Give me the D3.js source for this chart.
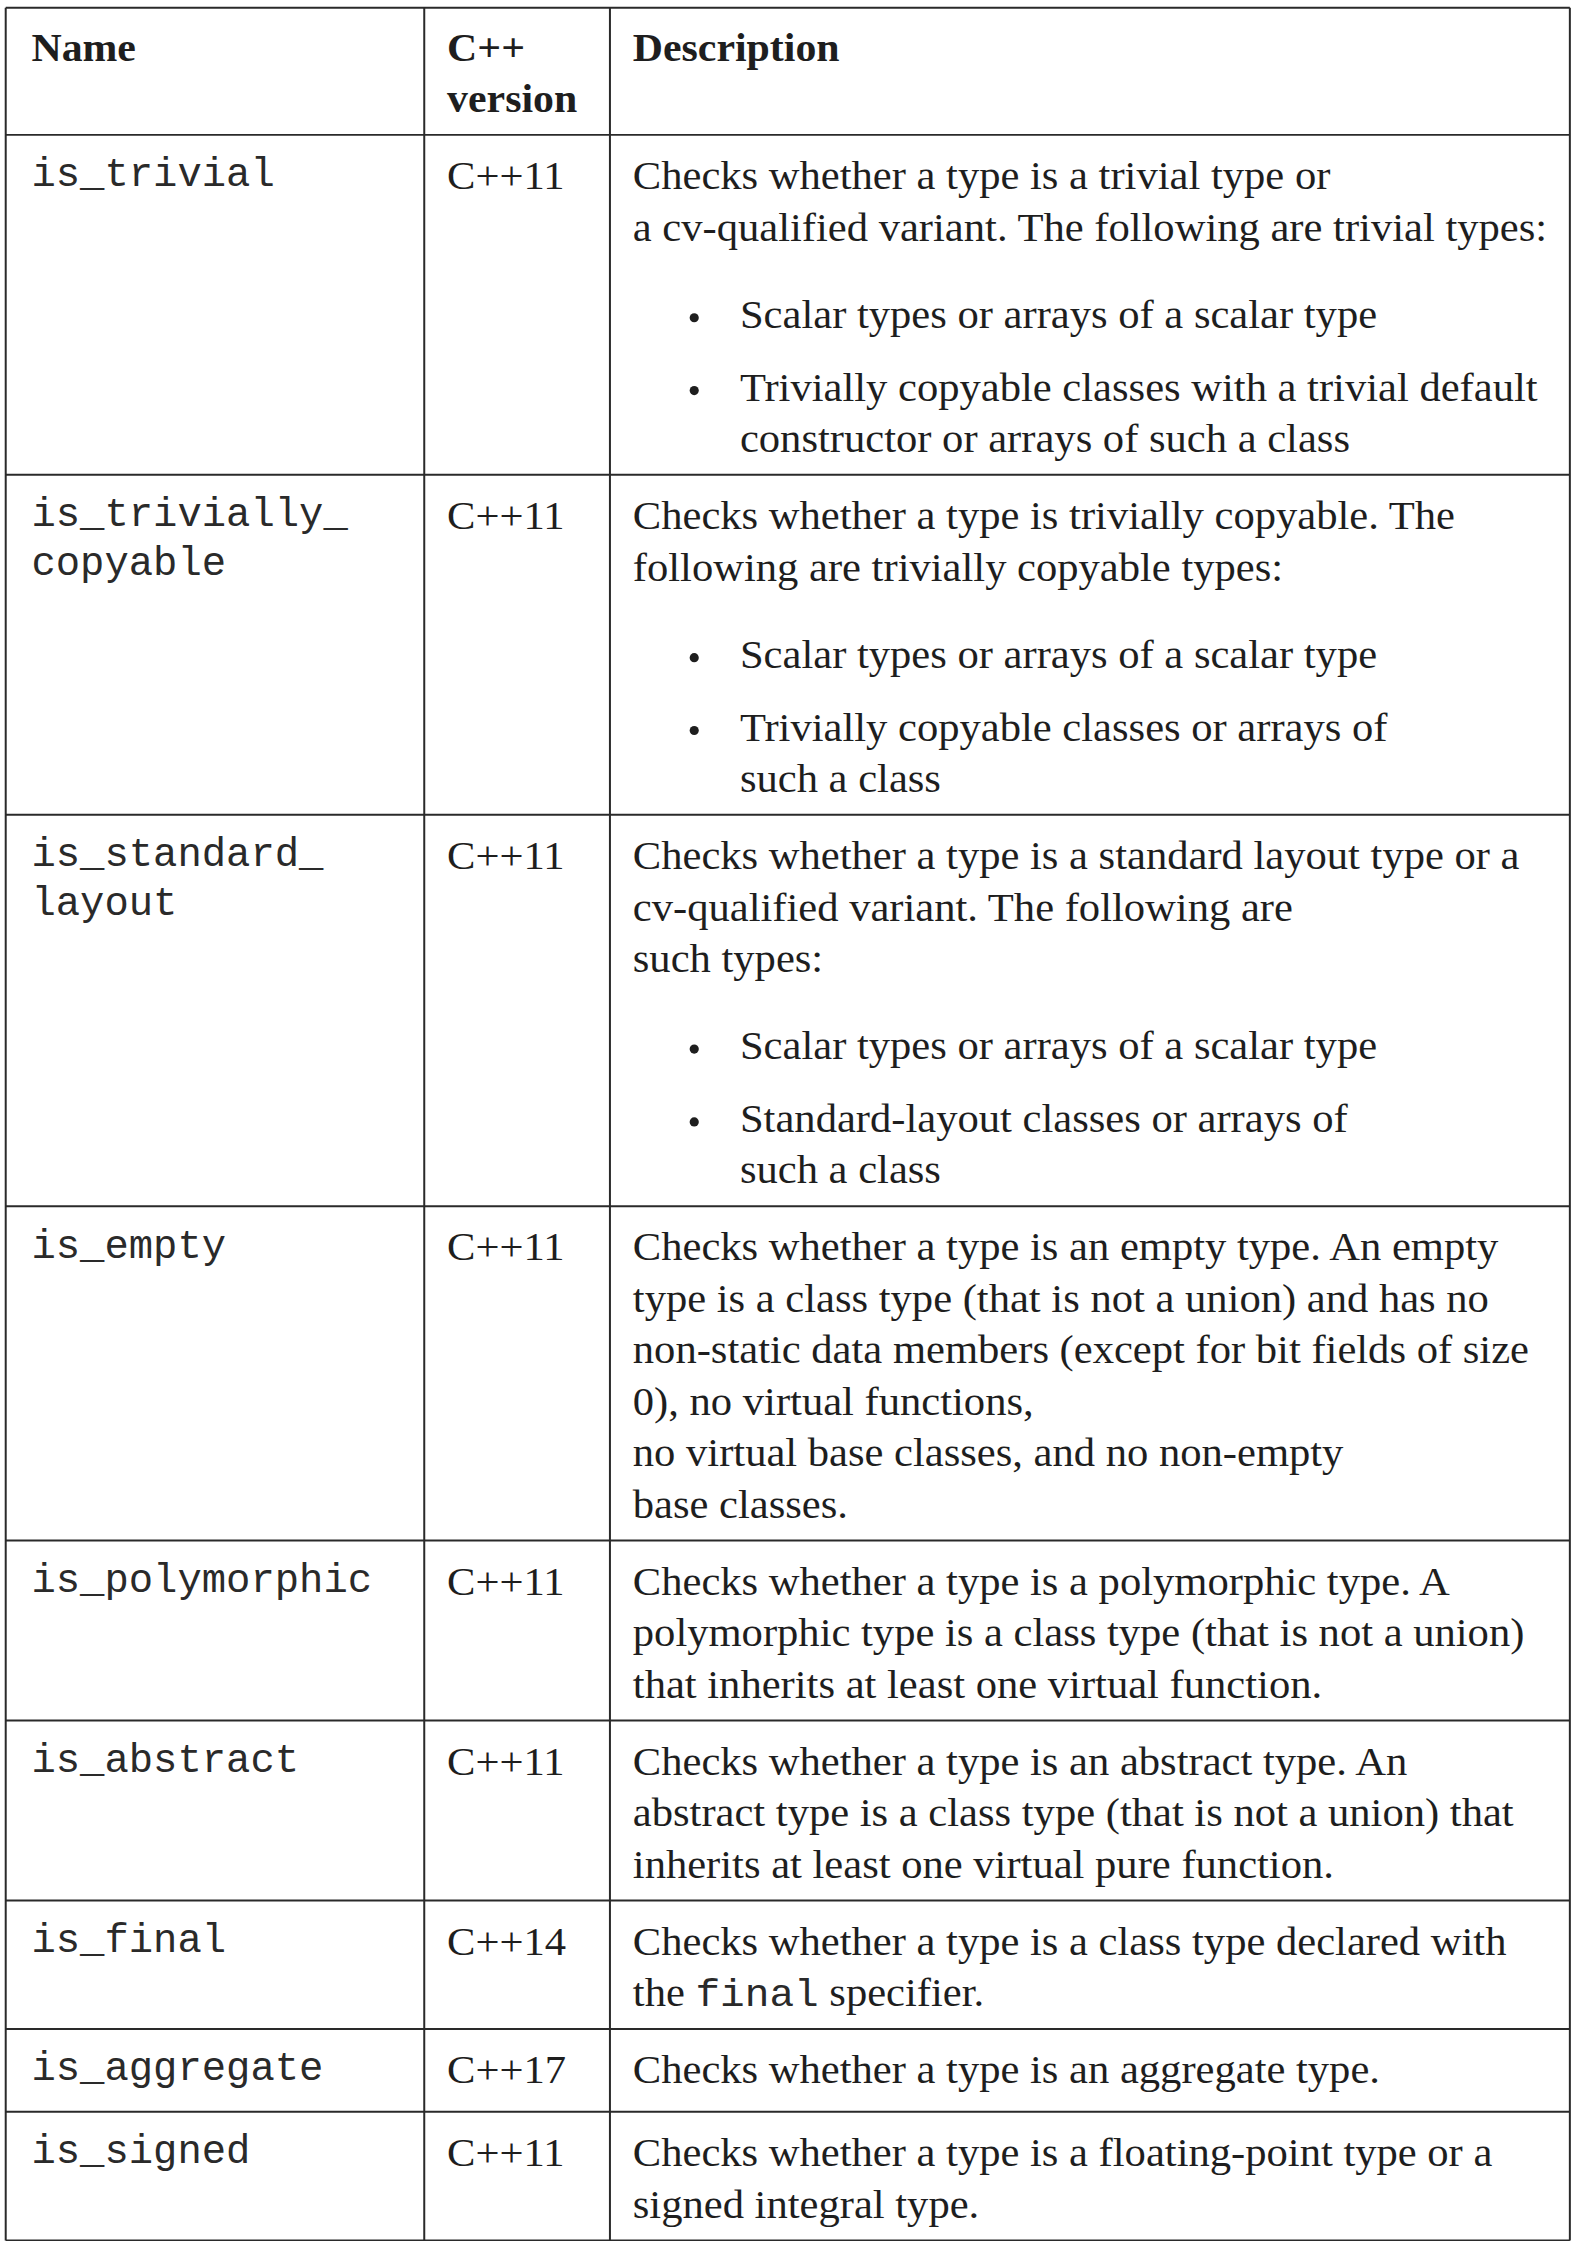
<!DOCTYPE html>
<html><head><meta charset="utf-8">
<script src="https://cdn.jsdelivr.net/npm/d3@7"></script>
<style>body{margin:0;background:#fff}</style>
</head><body>
<svg id="t"></svg>
<script>
// table content
var headers = ["Name", "C++\nversion", "Description"];
var names = [["is_trivial"], ["is_trivially_", "copyable"], ["is_standard_", "layout"], ["is_empty"],
  ["is_polymorphic"], ["is_abstract"], ["is_final"], ["is_aggregate"], ["is_signed"]];
var versions = ["C++11", "C++11", "C++11", "C++11", "C++11", "C++11", "C++14", "C++17", "C++11"];
// p = paragraph line, b = bullet line, c = bullet continuation
var descriptions = [
  [["p", "Checks whether a type is a trivial type or"], ["p", "a cv-qualified variant. The following are trivial types:"],
   ["b", "Scalar types or arrays of a scalar type"], ["b", "Trivially copyable classes with a trivial default"], ["c", "constructor or arrays of such a class"]],
  [["p", "Checks whether a type is trivially copyable. The"], ["p", "following are trivially copyable types:"],
   ["b", "Scalar types or arrays of a scalar type"], ["b", "Trivially copyable classes or arrays of"], ["c", "such a class"]],
  [["p", "Checks whether a type is a standard layout type or a"], ["p", "cv-qualified variant. The following are"], ["p", "such types:"],
   ["b", "Scalar types or arrays of a scalar type"], ["b", "Standard-layout classes or arrays of"], ["c", "such a class"]],
  [["p", "Checks whether a type is an empty type. An empty"], ["p", "type is a class type (that is not a union) and has no"],
   ["p", "non-static data members (except for bit fields of size"], ["p", "0), no virtual functions,"],
   ["p", "no virtual base classes, and no non-empty"], ["p", "base classes."]],
  [["p", "Checks whether a type is a polymorphic type. A"], ["p", "polymorphic type is a class type (that is not a union)"], ["p", "that inherits at least one virtual function."]],
  [["p", "Checks whether a type is an abstract type. An"], ["p", "abstract type is a class type (that is not a union) that"], ["p", "inherits at least one virtual pure function."]],
  [["p", "Checks whether a type is a class type declared with"], ["p", "the `final` specifier."]],
  [["p", "Checks whether a type is an aggregate type."]],
  [["p", "Checks whether a type is a floating-point type or a"], ["p", "signed integral type."]]
];

var W = 1104, H = 1568;
var cols = [4, 297, 427, 1099];
var serif = "'Liberation Serif', 'DejaVu Serif', serif";
var mono = "'Liberation Mono', 'DejaVu Sans Mono', monospace";
var ink = "#1e1e1e";
var sx = 1.065; // reference face is a bit wider than Liberation Serif

var svg = d3.select("#t").attr("width", 1577).attr("height", 2241)
  .attr("viewBox", "0 0 " + W + " " + H);

function txt(parent, x, y, family, size, weight) {
  return parent.append("text")
    .attr("transform", "translate(" + x + "," + y + ")" + (family === serif ? " scale(" + sx + ",1)" : ""))
    .attr("font-family", family).attr("font-size", size)
    .attr("font-weight", weight || "normal").attr("fill", ink);
}

// work out row tops from line counts
var headTop = 5, headBottom = 94;
var rows = [];
var y = headBottom;
descriptions.forEach(function(lines, i) {
  var offs = [], cur = 29;
  lines.forEach(function(l, j) {
    if (j > 0) {
      var prev = lines[j - 1][0];
      if (l[0] === "b" && prev === "p") cur += 61;
      else if (l[0] === "b") cur += 51;
      else cur += 36;
    }
    offs.push(cur);
  });
  var h = lines.length === 1 ? 58 : cur + 25;
  rows.push({top: y, h: h, offs: offs, lines: lines, name: names[i], ver: versions[i]});
  y += h;
});
var bottom = y;

var base = 9;

// header
txt(svg, 22, 33 + base, serif, 27.5, "bold").text(headers[0]);
headers[1].split("\n").forEach(function(t, i) {
  txt(svg, 313, 33 + i * 36 + base, serif, 27.5, "bold").text(t);
});
txt(svg, 443, 33 + base, serif, 27.5, "bold").text(headers[2]);

rows.forEach(function(r) {
  var g = svg.append("g").attr("transform", "translate(0," + r.top + ")");
  r.name.forEach(function(t, i) {
    txt(g, 22, 27 + i * 34 + base, mono, 28.4).attr("fill", "#2a2a2a").text(t);
  });
  txt(g, 313, 29 + base, serif, 28).text(r.ver);
  r.lines.forEach(function(l, j) {
    var x = l[0] === "p" ? 443 : 518;
    var tx = txt(g, x, r.offs[j] + base, serif, 28);
    l[1].split("`").forEach(function(seg, k) {
      var ts = tx.append("tspan").text(seg);
      if (k % 2 === 1) ts.attr("font-family", mono).attr("font-size", 27).attr("fill", "#2a2a2a");
    });
    if (l[0] === "b") {
      g.append("circle").attr("cx", 486).attr("cy", r.offs[j] + 2).attr("r", 3.2).attr("fill", ink);
    }
  });
});

// grid lines
var hl = [headTop, headBottom].concat(rows.map(function(r) { return r.top + r.h; }));
svg.selectAll("line.h").data(hl).enter().append("line")
  .attr("x1", cols[0]).attr("x2", cols[3]).attr("y1", function(d) { return d; }).attr("y2", function(d) { return d; })
  .attr("stroke", "#2a2a2a").attr("stroke-width", 1.4);
svg.selectAll("line.v").data(cols).enter().append("line")
  .attr("x1", function(d) { return d; }).attr("x2", function(d) { return d; })
  .attr("y1", headTop).attr("y2", bottom)
  .attr("stroke", "#2a2a2a").attr("stroke-width", 1.4);
</script>
</body></html>
